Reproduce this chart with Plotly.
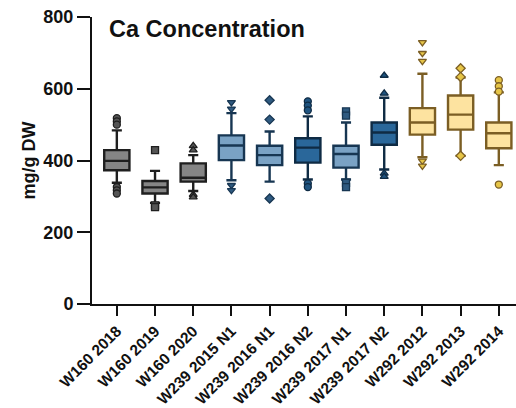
import plotly.graph_objects as go

categories = ["W160 2018", "W160 2019", "W160 2020", "W239 2015 N1", "W239 2016 N1",
              "W239 2016 N2", "W239 2017 N1", "W239 2017 N2", "W292 2012", "W292 2013", "W292 2014"]
lower_fence = [338, 282, 315, 345, 341, 347, 347, 375, 409, 413, 387]
q1 = [373, 308, 341, 401, 387, 394, 380, 444, 472, 486, 434]
median = [399, 325, 352, 442, 415, 436, 418, 478, 506, 528, 476]
q3 = [429, 343, 392, 470, 441, 462, 441, 506, 546, 581, 506]
upper_fence = [484, 371, 415, 532, 481, 523, 506, 575, 642, 631, 590]
outliers = [
    [518, 509, 500, 326, 317, 308],
    [429, 275, 270],
    [441, 429, 305, 298],
    [562, 544, 331, 317],
    [568, 514, 294],
    [565, 553, 540, 336, 326],
    [537, 525, 338, 326],
    [637, 587, 364, 355],
    [729, 699, 677, 399, 385],
    [657, 633, 413],
    [624, 607, 592, 333],
]
groups = ["gray", "gray", "gray", "light", "light", "dark", "light", "dark", "yellow", "yellow", "yellow"]
symbols = ["circle", "square", "triangle-up", "triangle-down", "diamond", "circle",
           "square", "triangle-up", "triangle-down", "diamond", "circle"]

fills = {"gray": "#858585", "light": "#7aa2c4", "dark": "#2a679a", "yellow": "#fde3a0"}
lines = {"gray": "#1f1f1f", "light": "#173652", "dark": "#0f2b44", "yellow": "#7b5e24"}
mfill = {"gray": "#555555", "light": "#2f5a80", "dark": "#1f5480", "yellow": "#e6c547"}

fig = go.Figure()
for i, cat in enumerate(categories):
    g = groups[i]
    fig.add_trace(go.Box(
        x=[i], q1=[q1[i]], median=[median[i]], q3=[q3[i]],
        lowerfence=[lower_fence[i]], upperfence=[upper_fence[i]],
        boxpoints=False, width=0.66, whiskerwidth=0.4,
        fillcolor=fills[g], line=dict(color=lines[g], width=2.4),
        showlegend=False, hoverinfo="skip",
    ))
    fig.add_trace(go.Scatter(
        x=[i] * len(outliers[i]), y=outliers[i], mode="markers",
        marker=dict(symbol=symbols[i], size=7, color=mfill[g],
                    line=dict(color=lines[g], width=1.3)),
        showlegend=False, hoverinfo="skip",
    ))

font_family = "Arial, Liberation Sans, sans-serif"
fig.update_layout(
    width=516, height=408,
    margin=dict(l=92, r=0, t=17, b=104),
    paper_bgcolor="white", plot_bgcolor="white",
    font=dict(family=font_family, color="#111111"),
    xaxis=dict(
        range=[-0.65, 10.45], tickmode="array", tickvals=list(range(len(categories))),
        ticktext=["<b>%s</b>" % c for c in categories], tickangle=-45,
        tickfont=dict(size=15.5, family=font_family, color="#111111"),
        showline=True, linecolor="#111111", linewidth=2,
        ticks="outside", ticklen=10, tickwidth=2, tickcolor="#111111",
        showgrid=False, zeroline=False,
    ),
    yaxis=dict(
        range=[0, 800], tickvals=[0, 200, 400, 600, 800],
        ticktext=["<b>%d</b>" % v for v in [0, 200, 400, 600, 800]],
        tickfont=dict(size=18, family=font_family, color="#111111"),
        showline=True, linecolor="#111111", linewidth=2,
        ticks="outside", ticklen=13, tickwidth=2, tickcolor="#111111",
        showgrid=False, zeroline=False,
    ),
    annotations=[
        dict(
            text="<b>Ca Concentration</b>", xref="paper", yref="paper",
            x=0.035, y=1.01, xanchor="left", yanchor="top", showarrow=False,
            font=dict(size=23.5, family=font_family, color="#111111"),
        ),
        dict(
            text="<b>mg/g DW</b>", xref="paper", yref="paper",
            x=0, y=0.5, xanchor="center", yanchor="middle", xshift=-64,
            textangle=-90, showarrow=False,
            font=dict(size=18, family=font_family, color="#111111"),
        ),
    ],
)

fig.write_html("out.html")
